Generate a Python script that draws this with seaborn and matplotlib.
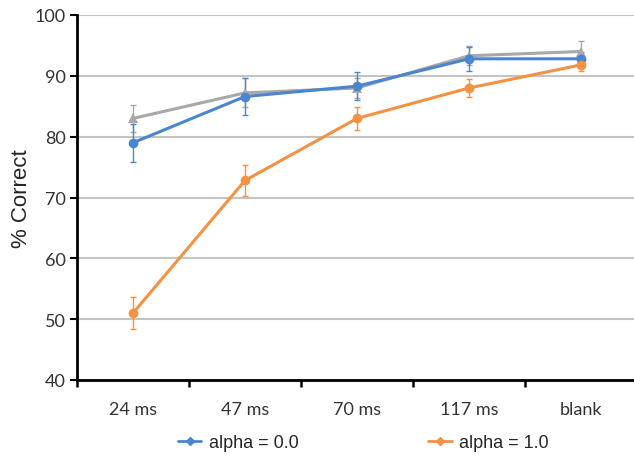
import numpy as np
import pandas as pd
import matplotlib
matplotlib.use("Agg")
import matplotlib.pyplot as plt
import seaborn as sns
from matplotlib.lines import Line2D

conditions = ["24 ms", "47 ms", "70 ms", "117 ms", "blank"]
alpha0 = [79.0, 86.6, 88.3, 92.8, 92.8]
alpha0_err = [3.1, 3.0, 2.3, 2.0, 1.2]
alpha1 = [51.0, 72.8, 83.0, 88.0, 91.8]
alpha1_err = [2.6, 2.5, 1.9, 1.5, 1.0]
baseline = [83.0, 87.2, 88.0, 93.3, 94.0]
baseline_err = [2.2, 2.4, 1.7, 1.6, 1.8]

blue = "#4A86D0"
orange = "#F59242"
gray = "#A8A8A8"

df = pd.DataFrame({
    "cond": conditions * 3,
    "pct": baseline + alpha0 + alpha1,
    "err": baseline_err + alpha0_err + alpha1_err,
    "series": ["base"] * 5 + ["alpha = 0.0"] * 5 + ["alpha = 1.0"] * 5,
})

sns.set_style("white")
plt.rcParams["font.family"] = ["Lato", "DejaVu Sans"]

fig = plt.figure(figsize=(6.34, 4.6), dpi=100)
ax = fig.add_axes([77 / 634, 79 / 460, 560 / 634, 365 / 460])

styles = {"base": (gray, "^"), "alpha = 0.0": (blue, "o"), "alpha = 1.0": (orange, "o")}
for name, (col, mk) in styles.items():
    sub = df[df.series == name]
    ax.errorbar(sub.cond, sub.pct, yerr=sub.err, fmt="none", ecolor=col,
                elinewidth=1.0, capsize=2, capthick=1.0, zorder=3)
    sns.lineplot(data=sub, x="cond", y="pct", color=col, marker=mk,
                 markersize=7, markeredgewidth=0, linewidth=2.2,
                 ax=ax, zorder=4, legend=False)

ax.set_ylim(40, 100)
ax.set_xlim(-0.5, 4.5)
ax.set_yticks(range(40, 101, 10))
ax.yaxis.grid(True, color="#C4C4C4", linewidth=1.5)
ax.set_axisbelow(True)
ax.set_xlabel("")
ax.set_ylabel("% Correct", fontsize=16, labelpad=2,
              family=["Liberation Sans", "DejaVu Sans"])

for side in ["top", "right"]:
    ax.spines[side].set_visible(False)
for side in ["left", "bottom"]:
    ax.spines[side].set_color("black")
    ax.spines[side].set_linewidth(2)

ax.tick_params(axis="y", direction="out", length=5, width=1.5, color="black",
               labelsize=13, left=True, pad=3, labelcolor="#333333")
ax.tick_params(axis="x", length=0, labelsize=13, pad=15, labelcolor="#333333")
ax.set_xticks(range(len(conditions)))
ax.set_xticklabels(conditions)
ax.set_xticks(np.arange(-0.5, 4.6, 1), minor=True)
ax.tick_params(axis="x", which="minor", direction="out", length=5, width=1.8,
               color="black", bottom=True)

handles = [Line2D([], [], color=blue, marker="D", markersize=4.5, linewidth=2),
           Line2D([], [], color=orange, marker="D", markersize=4.5, linewidth=2)]
fig.legend(handles, ["alpha = 0.0", "alpha = 1.0"], loc="center",
           bbox_to_anchor=(0.573, 0.035), ncol=2, frameon=False,
           columnspacing=7.2, handlelength=1.3, handletextpad=0.4,
           prop={"family": ["Liberation Sans", "DejaVu Sans"], "size": 13})

fig.savefig("out.png", dpi=100)
